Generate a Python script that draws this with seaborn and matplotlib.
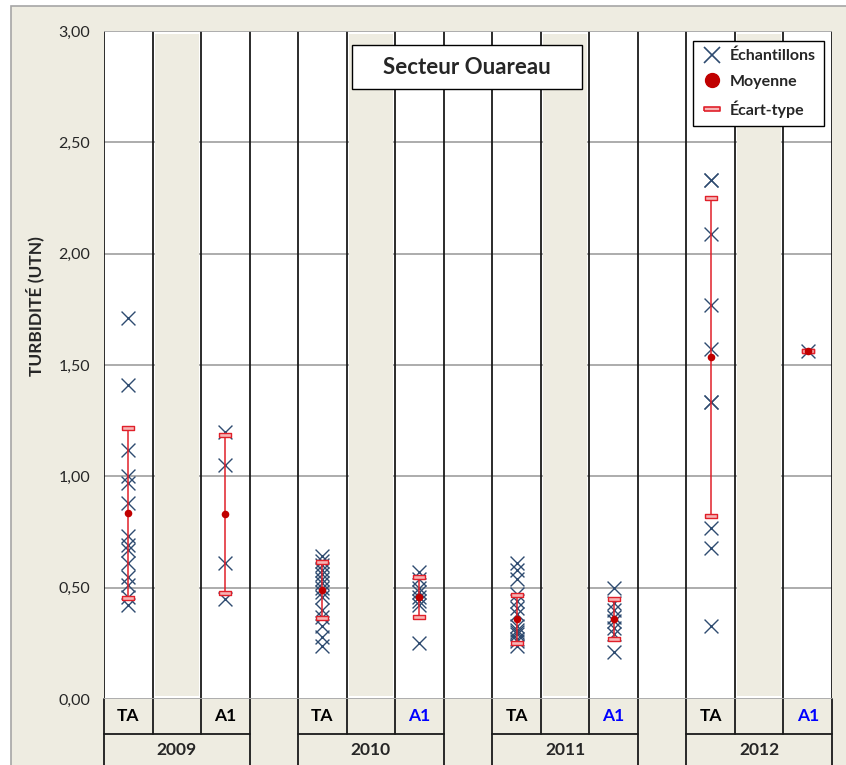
import numpy as np
import pandas as pd
import matplotlib
matplotlib.use("Agg")
import matplotlib.pyplot as plt
from matplotlib.lines import Line2D
from matplotlib.patches import Rectangle
from matplotlib.transforms import blended_transform_factory
import seaborn as sns

# data
years = ["2009", "2010", "2011", "2012"]
stations = ["TA", "", "A1"]

ta_2009 = [1.71, 1.41, 1.12, 1.00, 0.97, 0.88, 0.73, 0.69, 0.67, 0.61, 0.55, 0.51, 0.46, 0.42]
a1_2009 = [1.20, 1.05, 0.61, 0.45]
ta_2010 = [0.64, 0.62, 0.60, 0.58, 0.56, 0.54, 0.52, 0.50, 0.48, 0.46, 0.40, 0.37, 0.33, 0.28, 0.24]
a1_2010 = [0.57, 0.54, 0.50, 0.48, 0.46, 0.44, 0.42, 0.25]
ta_2011 = [0.61, 0.58, 0.54, 0.47, 0.44, 0.41, 0.38, 0.33, 0.31, 0.30, 0.29, 0.27, 0.26, 0.24]
a1_2011 = [0.50, 0.43, 0.40, 0.37, 0.35, 0.32, 0.29, 0.21]
ta_2012 = [2.33, 2.33, 2.09, 1.77, 1.57, 1.335, 1.335, 0.77, 0.68, 0.33]
a1_2012 = [1.565]

mean_ta = [0.835, 0.49, 0.36, 1.535]
sd_ta = [0.38, 0.125, 0.107, 0.715]
mean_a1 = [0.83, 0.46, 0.36, 1.565]
sd_a1 = [0.355, 0.09, 0.09, 0.0]

blank_height = 3.0
a1_label_colors = ["black", "#0000FF", "#0000FF", "#0000FF"]

BEIGE = "#EEECE1"
CROSS = "#2E4B70"
RED = "#C00000"
ERR = "#E0202A"

sns.set_style("white")
plt.rcParams["font.family"] = ["Lato", "DejaVu Sans"]

# build long table of samples
ta_lists = [ta_2009, ta_2010, ta_2011, ta_2012]
a1_lists = [a1_2009, a1_2010, a1_2011, a1_2012]
rows = []
for g, yr in enumerate(years):
    for v in ta_lists[g]:
        rows.append({"pos": 4 * g, "val": v})
    for v in a1_lists[g]:
        rows.append({"pos": 4 * g + 2, "val": v})
df = pd.DataFrame(rows)

n_cols = 4 * len(years) - 1
fig = plt.figure(figsize=(8.46, 7.65), dpi=100, facecolor="white")
fig.patches.append(Rectangle((11 / 846, -0.02), 1.05, 1 - 6 / 765 + 0.02, transform=fig.transFigure,
                             facecolor=BEIGE, edgecolor="#A6A6A6", lw=1.2, zorder=-10))
ax = fig.add_axes([104 / 846, 66 / 765, 728 / 846, 668 / 765])
ax.set_facecolor("white")
ax.set_xlim(-0.5, n_cols - 0.5)
ax.set_ylim(0, 3)

# horizontal grid
for yv in np.arange(0, 3.01, 0.5):
    z = 3 if yv in (0, 3) else 0
    ax.axhline(yv, color="#A6A6A6", lw=1.3, zorder=z)

# beige filler bars in the empty columns
blank_pos = [4 * g + 1 for g in range(len(years))]
ax.bar(blank_pos, blank_height - 0.025, bottom=0.012, width=0.9, color=BEIGE, lw=0, zorder=1)

# column separators
for xb in np.arange(-0.5, n_cols, 1.0):
    ax.plot([xb, xb], [0, 3], color="#1A1A1A", lw=1.3, zorder=2, solid_capstyle="butt")

# samples
sns.scatterplot(data=df, x="pos", y="val", marker="x", s=100, color=CROSS, linewidth=1.0,
                ax=ax, zorder=4, legend=False)

# error bars and means
cap_verts = [(-1, -0.25), (1, -0.25), (1, 0.25), (-1, 0.25), (-1, -0.25)]
for g in range(len(years)):
    for x0, m, s in [(4 * g, mean_ta[g], sd_ta[g]), (4 * g + 2, mean_a1[g], sd_a1[g])]:
        ax.plot([x0, x0], [m - s, m + s], color=ERR, lw=1.1, zorder=5)
        ax.plot([x0, x0], [m - s, m + s], ls="none", marker=cap_verts, ms=9, mfc="#F6B5B5",
                mec=ERR, mew=1.0, zorder=6)
        ax.scatter([x0], [m], s=30, color=RED, zorder=7, linewidths=0)

# y axis
ax.set_yticks(np.arange(0, 3.01, 0.5))
ax.yaxis.set_major_formatter(plt.FuncFormatter(lambda v, p: f"{v:.2f}".replace(".", ",")))
ax.tick_params(axis="y", length=6, width=1.2, color="#A6A6A6", labelsize=11.5, pad=4)
ax.tick_params(axis="x", length=0, labelbottom=False)
ax.set_xlabel("")
ax.set_ylabel("")
for sp in ax.spines.values():
    sp.set_visible(False)
fig.text(35 / 846, 1 - 306 / 765, "TURBIDITÉ (UTN)", rotation=90, ha="center", va="center",
         fontsize=12.5, fontweight="bold")

# two level category axis
tr = blended_transform_factory(ax.transData, ax.transAxes)
row_y = -35 / 668
bot_y = -70 / 668
for g, yr in enumerate(years):
    left, right = 4 * g - 0.5, 4 * g + 2.5
    ax.plot([left, right], [row_y, row_y], color="#1A1A1A", lw=1.3, transform=tr, clip_on=False)
    for xb in (left, right):
        ax.plot([xb, xb], [0, bot_y], color="#1A1A1A", lw=1.3, transform=tr, clip_on=False)
    for xb in (left + 1, left + 2):
        ax.plot([xb, xb], [0, row_y], color="#1A1A1A", lw=1.3, transform=tr, clip_on=False)
    for k, st in enumerate(stations):
        col = a1_label_colors[g] if st == "A1" else "black"
        ax.text(4 * g + k, -17 / 668, st, transform=tr, ha="center", va="center",
                fontsize=12.5, fontweight="bold", color=col)
    ax.text(4 * g + 1, -51 / 668, yr, transform=tr, ha="center", va="center",
            fontsize=12.5, fontweight="bold")

# title box
fig.patches.append(Rectangle((352 / 846, 1 - 89 / 765), 230 / 846, 44 / 765, transform=fig.transFigure,
                             facecolor="white", edgecolor="black", lw=1.0, zorder=10))
fig.text(467 / 846, 1 - 67 / 765, "Secteur Ouareau", ha="center", va="center", fontsize=16,
         fontweight="bold", zorder=11)

# legend
handles = [
    Line2D([], [], ls="none", marker="x", ms=11, mew=1.2, color=CROSS),
    Line2D([], [], ls="none", marker="o", ms=10, color=RED),
    Line2D([], [], ls="none", marker=cap_verts, ms=12, mfc="#F6B5B5", mec=ERR, mew=1.2),
]
leg = fig.legend(handles, ["Échantillons", "Moyenne", "Écart-type"], loc="upper right",
                 bbox_to_anchor=(824 / 846, 1 - 41 / 765), frameon=True, fancybox=False,
                 edgecolor="black", framealpha=1, prop={"weight": "bold", "size": 11.5},
                 handlelength=1.3, handletextpad=0.5, labelspacing=0.7, borderpad=0.5,
                 borderaxespad=0)
leg.get_frame().set_linewidth(1.0)

fig.savefig("out.png", dpi=100, facecolor="white")
